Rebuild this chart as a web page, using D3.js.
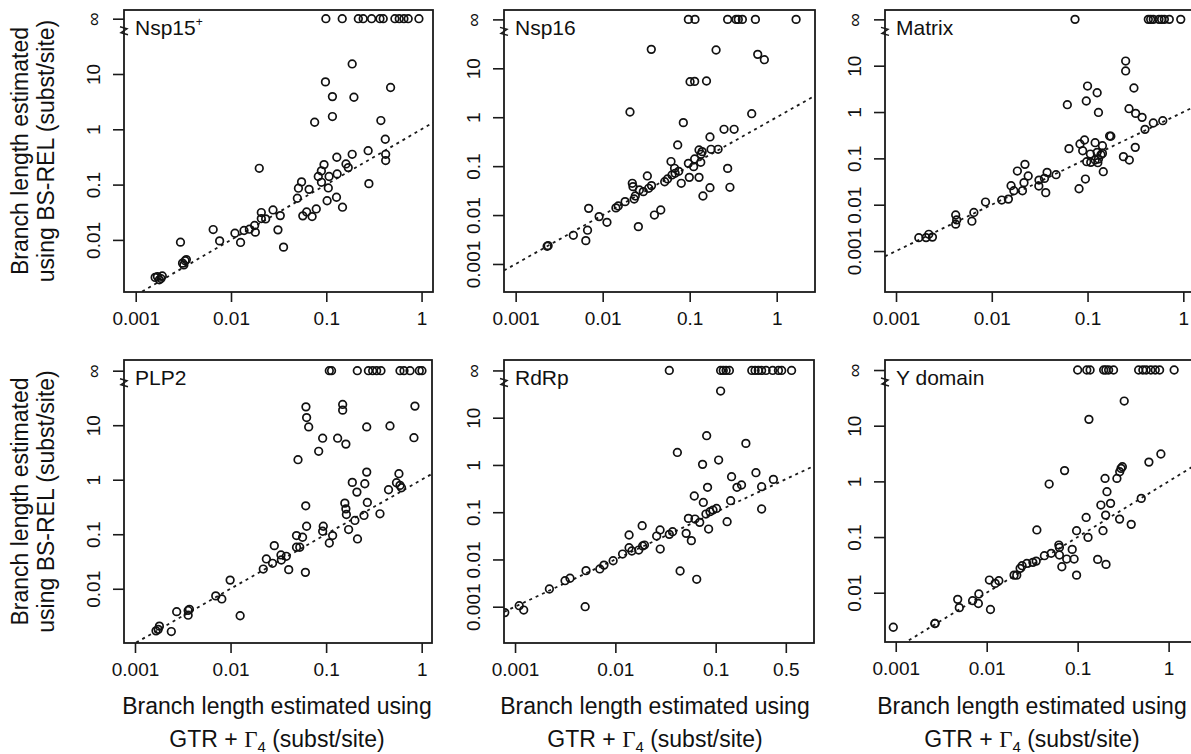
<!DOCTYPE html>
<html>
<head>
<meta charset="utf-8">
<title>BS-REL vs GTR branch lengths</title>
<script src="https://d3js.org/d3.v7.min.js"></script>
<style>
  body { margin: 0; background: #fff; }
  svg { font-family: "Liberation Sans", Arial, sans-serif; }
  .box { fill: none; stroke: #1a1a1a; stroke-width: 1.8px; }
  .tick line { stroke: #1a1a1a; stroke-width: 1.6px; }
  .tick text { font-size: 19px; fill: #111; }
  .pt { fill: none; stroke: #111; stroke-width: 1.7px; }
  .diag { fill: none; stroke: #1a1a1a; stroke-width: 1.8px; stroke-dasharray: 3 4; }
  .brk { fill: none; stroke: #1a1a1a; stroke-width: 1.5px; }
  .title { font-size: 21px; fill: #111; }
  .label { font-size: 23px; fill: #111; }
</style>
</head>
<body>
<svg id="chart" width="1191" height="754"></svg>
<script>
// Panel names
const panelNames = ["Nsp15", "Nsp16", "Matrix", "PLP2", "RdRp", "Y domain"];

// GTR + Gamma4 branch lengths (x) and BS-REL branch lengths (y); Infinity = unbounded estimate
const nsp15Gtr = [0.099, 0.147, 0.217, 0.244, 0.299, 0.366, 0.396, 0.525, 0.583, 0.653, 0.724, 0.938,
  0.187, 0.098, 0.473, 0.116, 0.195, 0.116, 0.0755, 0.374, 0.416, 0.275, 0.42, 0.42, 0.187, 0.129, 0.161,
  0.170, 0.0947, 0.0888, 0.0824, 0.107, 0.13, 0.089, 0.105, 0.28, 0.102, 0.128, 0.148, 0.055, 0.051, 0.066,
  0.0497, 0.0785, 0.0622, 0.0567, 0.071, 0.0276, 0.0208, 0.0208, 0.0231, 0.0329, 0.0198, 0.0177, 0.0156,
  0.0137, 0.018, 0.0311, 0.011, 0.0126, 0.0356, 0.0065, 0.0076, 0.00295, 0.0033, 0.0032, 0.0034, 0.0031,
  0.00169, 0.00184, 0.0019, 0.00177, 0.0016];
const nsp15Bsrel = [Infinity, Infinity, Infinity, Infinity, Infinity, Infinity, Infinity, Infinity, Infinity, Infinity, Infinity, Infinity,
  15.2, 7.2, 5.7, 3.9, 3.8, 1.7, 1.34, 1.44, 0.66, 0.41, 0.353, 0.272, 0.353, 0.312, 0.236,
  0.203, 0.23, 0.177, 0.14, 0.14, 0.156, 0.110, 0.087, 0.104, 0.051, 0.059, 0.039, 0.112, 0.086, 0.082,
  0.0566, 0.0363, 0.032, 0.0272, 0.0264, 0.0348, 0.0312, 0.0243, 0.024, 0.0275, 0.197, 0.0182, 0.0156,
  0.0148, 0.0138, 0.0152, 0.0132, 0.009, 0.0074, 0.0154, 0.0096, 0.0091, 0.0042, 0.00353, 0.0044, 0.0038,
  0.00217, 0.002, 0.00223, 0.0019, 0.0021];

const nsp16Gtr = [0.0966, 0.115, 0.273, 0.341, 0.362, 0.403, 0.569, 1.67,
  0.0362, 0.201, 0.605, 0.721, 0.101, 0.114, 0.156, 0.0206, 0.516, 0.0845, 0.248, 0.324, 0.171, 0.0728,
  0.128, 0.139, 0.176, 0.212, 0.135, 0.061, 0.067, 0.068, 0.0748, 0.0966, 0.111, 0.114, 0.134, 0.099, 0.128,
  0.080, 0.273, 0.29, 0.171, 0.142, 0.0516, 0.0556, 0.0626, 0.0326, 0.0364, 0.0338, 0.0293, 0.0264, 0.0219,
  0.0223, 0.023, 0.0237, 0.0181, 0.0151, 0.0142, 0.0393, 0.0465, 0.0257, 0.0091, 0.0112, 0.0069, 0.0067,
  0.0064, 0.0046, 0.00236, 0.0023];
const nsp16Bsrel = [Infinity, Infinity, Infinity, Infinity, Infinity, Infinity, Infinity, Infinity,
  24.4, 23.7, 19.3, 15, 5.33, 5.4, 5.5, 1.28, 1.18, 0.775, 0.566, 0.566, 0.395, 0.271,
  0.214, 0.198, 0.221, 0.221, 0.175, 0.124, 0.0903, 0.0714, 0.0783, 0.114, 0.0977, 0.140, 0.12, 0.059, 0.059,
  0.0446, 0.090, 0.0369, 0.0363, 0.0245, 0.048, 0.0547, 0.066, 0.063, 0.04, 0.0352, 0.0301, 0.0326, 0.0446,
  0.0381, 0.0213, 0.0245, 0.0188, 0.0153, 0.014, 0.01, 0.0127, 0.0058, 0.0093, 0.0071, 0.0137, 0.0049,
  0.003, 0.00386, 0.00237, 0.0023];

const matrixGtr = [0.074, 0.431, 0.456, 0.486, 0.557, 0.594, 0.634, 0.714, 0.94,
  0.25, 0.25, 0.305, 0.1, 0.126, 0.097, 0.0615, 0.13, 0.271, 0.318, 0.371, 0.61, 0.486, 0.398, 0.17, 0.175,
  0.315, 0.064, 0.0834, 0.093, 0.089, 0.12, 0.143, 0.107, 0.126, 0.138, 0.143, 0.098, 0.108, 0.12, 0.128,
  0.13, 0.146, 0.237, 0.273, 0.095, 0.0815, 0.0469, 0.0378, 0.0355, 0.0311, 0.031, 0.0366, 0.0222, 0.0185,
  0.024, 0.0217, 0.0209, 0.0159, 0.017, 0.0149, 0.0127, 0.0086, 0.0065, 0.0062, 0.0042, 0.0043, 0.0042,
  0.0022, 0.0024, 0.00173, 0.00206];
const matrixBsrel = [Infinity, Infinity, Infinity, Infinity, Infinity, Infinity, Infinity, Infinity, Infinity,
  12.6, 7.7, 3.3, 3.64, 2.61, 1.73, 1.44, 0.98, 1.18, 0.935, 0.767, 0.65, 0.58, 0.423, 0.303, 0.3,
  0.173, 0.162, 0.204, 0.249, 0.146, 0.218, 0.188, 0.124, 0.135, 0.12, 0.128, 0.0848, 0.082, 0.092, 0.0806,
  0.097, 0.0515, 0.109, 0.092, 0.0358, 0.0221, 0.0444, 0.0499, 0.037, 0.034, 0.0253, 0.0182, 0.0743, 0.0533,
  0.0416, 0.0299, 0.02, 0.0257, 0.02, 0.0132, 0.0126, 0.0114, 0.0068, 0.0044, 0.006, 0.0047, 0.0038,
  0.0023, 0.002, 0.00194, 0.00195];

const plp2Gtr = [0.108, 0.114, 0.212, 0.277, 0.307, 0.338, 0.375, 0.593, 0.653, 0.755, 0.944, 1.007,
  0.0615, 0.149, 0.149, 0.85, 0.0625, 0.0657, 0.266, 0.466, 0.092, 0.132, 0.161, 0.83, 0.0836, 0.0508,
  0.266, 0.578, 0.188, 0.254, 0.21, 0.545, 0.593, 0.615, 0.45, 0.0612, 0.157, 0.161, 0.163, 0.27, 0.366,
  0.249, 0.2, 0.172, 0.213, 0.0934, 0.092, 0.117, 0.108, 0.0625, 0.049, 0.0567, 0.049, 0.053, 0.0607,
  0.0287, 0.0237, 0.0275, 0.0337, 0.0383, 0.034, 0.022, 0.0406, 0.0099, 0.007, 0.0081, 0.0126, 0.00273,
  0.0036, 0.0036, 0.00371, 0.0018, 0.00166, 0.00175, 0.0024];
const plp2Bsrel = [Infinity, Infinity, Infinity, Infinity, Infinity, Infinity, Infinity, Infinity, Infinity, Infinity, Infinity, Infinity,
  21.7, 24, 18.9, 22.4, 13.8, 9.3, 9.3, 9.7, 5.77, 5.77, 4.5, 5.9, 3.32, 2.33,
  1.38, 1.29, 0.893, 0.843, 0.593, 0.88, 0.787, 0.713, 0.654, 0.332, 0.372, 0.292, 0.23, 0.383, 0.237,
  0.221, 0.179, 0.122, 0.082, 0.14, 0.1135, 0.0945, 0.069, 0.14, 0.0945, 0.0881, 0.0577, 0.0577, 0.02,
  0.0618, 0.0352, 0.0293, 0.0417, 0.0394, 0.0337, 0.023, 0.0224, 0.0144, 0.0074, 0.0065, 0.0032, 0.0038,
  0.004, 0.00327, 0.0042, 0.00206, 0.00169, 0.0018, 0.00164];

const rdrpGtr = [0.0345, 0.112, 0.119, 0.127, 0.137, 0.229, 0.247, 0.266, 0.287, 0.318, 0.37, 0.422, 0.455, 0.571,
  0.112, 0.0813, 0.2, 0.0415, 0.107, 0.074, 0.252, 0.144, 0.376, 0.181, 0.163, 0.287, 0.083, 0.0612,
  0.0753, 0.141, 0.287, 0.102, 0.094, 0.0877, 0.08, 0.13, 0.085, 0.0693, 0.0535, 0.0622, 0.0508, 0.0572,
  0.0372, 0.0345, 0.0279, 0.0258, 0.028, 0.0185, 0.0137, 0.0137, 0.0146, 0.0171, 0.0195, 0.0187, 0.0118,
  0.0095, 0.0077, 0.007, 0.0051, 0.0442, 0.0647, 0.00353, 0.00315, 0.0022, 0.005, 0.0011, 0.00122, 0.00079];
const rdrpBsrel = [Infinity, Infinity, Infinity, Infinity, Infinity, Infinity, Infinity, Infinity, Infinity, Infinity, Infinity, Infinity, Infinity, Infinity,
  36.6, 4.16, 2.86, 1.84, 1.27, 1.03, 0.686, 0.564, 0.495, 0.376, 0.336, 0.347, 0.336, 0.22,
  0.161, 0.175, 0.117, 0.12, 0.111, 0.1025, 0.0915, 0.063, 0.044, 0.061, 0.074, 0.0717, 0.0357, 0.025,
  0.0387, 0.034, 0.042, 0.0313, 0.0166, 0.0518, 0.0329, 0.0177, 0.0151, 0.0158, 0.0202, 0.0193, 0.013,
  0.0094, 0.0076, 0.0063, 0.0058, 0.0057, 0.0038, 0.004, 0.00355, 0.00237, 0.001, 0.00105, 0.00085, 0.00075];

const ydomGtr = [0.1, 0.126, 0.137, 0.193, 0.204, 0.219, 0.248, 0.468, 0.521, 0.567, 0.638, 0.713, 0.796, 1.15,
  0.325, 0.133, 0.822, 0.607, 0.31, 0.3, 0.29, 0.27, 0.2, 0.0718, 0.0486, 0.21, 0.5, 0.23, 0.18, 0.203,
  0.124, 0.289, 0.388, 0.19, 0.0973, 0.13, 0.0356, 0.0621, 0.063, 0.0512, 0.0431, 0.0871, 0.063, 0.0758,
  0.0914, 0.067, 0.0973, 0.166, 0.205, 0.035, 0.0322, 0.0276, 0.0245, 0.0233, 0.0214, 0.02, 0.0136, 0.0124,
  0.0107, 0.011, 0.0082, 0.0081, 0.007, 0.0048, 0.005, 0.0027, 0.0027, 0.00094];
const ydomBsrel = [Infinity, Infinity, Infinity, Infinity, Infinity, Infinity, Infinity, Infinity, Infinity, Infinity, Infinity, Infinity, Infinity, Infinity,
  27.7, 13, 3.1, 2.22, 1.83, 1.71, 1.49, 1.13, 1.13, 1.56, 0.895, 0.652, 0.495, 0.403, 0.376, 0.248,
  0.225, 0.21, 0.169, 0.13, 0.13, 0.0986, 0.134, 0.0718, 0.0652, 0.051, 0.0462, 0.06, 0.0475, 0.0403,
  0.0403, 0.0293, 0.0207, 0.0397, 0.0323, 0.037, 0.0351, 0.0336, 0.0306, 0.0274, 0.0207, 0.0207, 0.0164, 0.0147,
  0.0169, 0.005, 0.0095, 0.0064, 0.0072, 0.0076, 0.0054, 0.0028, 0.0028, 0.0024];

// Tick values and labels
const xTicksStandard = [0.001, 0.01, 0.1, 1];
const xTicksRdrp = [0.001, 0.01, 0.1, 0.5];
const xTickLabels = { 0.001: "0.001", 0.01: "0.01", 0.1: "0.1", 0.5: "0.5", 1: "1" };
const infinityPlotsAt = 100;
const yTicks = [0.001, 0.01, 0.1, 1, 10, infinityPlotsAt];
const yTickLabels = ["0.001", "0.01", "0.1", "1", "10", "\u221E"];

// Layout: plot box in px, axis limits as log10 exponents
const layout = [
  { l: 124, r: 433, t: 10, b: 292, xlim: [-3.123, 0.12], ylim: [-2.942, 2.157], labelX: 277 },
  { l: 504, r: 815, t: 10, b: 292, xlim: [-3.134, 0.44], ylim: [-3.573, 2.192], labelX: 655 },
  { l: 885, r: 1195, t: 10, b: 292, xlim: [-3.115, 0.122], ylim: [-3.884, 2.202], labelX: 1032 },
  { l: 124, r: 432, t: 360, b: 643, xlim: [-3.115, 0.108], ylim: [-2.995, 2.196], labelX: 277 },
  { l: 504, r: 814, t: 360, b: 643, xlim: [-3.11, -0.02], ylim: [-3.768, 2.221], labelX: 655 },
  { l: 885, r: 1195, t: 360, b: 642, xlim: [-3.118, 0.29], ylim: [-2.885, 2.18], labelX: 1032 }
];

const panelData = [
  [nsp15Gtr, nsp15Bsrel], [nsp16Gtr, nsp16Bsrel], [matrixGtr, matrixBsrel],
  [plp2Gtr, plp2Bsrel], [rdrpGtr, rdrpBsrel], [ydomGtr, ydomBsrel]
];
const panelXTicks = [xTicksStandard, xTicksStandard, xTicksStandard, xTicksStandard, xTicksRdrp, xTicksStandard];

const svg = d3.select("#chart");

panelNames.forEach((name, i) => {
  const L = layout[i];
  const [gtr, bsrel] = panelData[i];
  const x = d3.scaleLog().domain(L.xlim.map(e => Math.pow(10, e))).range([L.l, L.r]);
  const y = d3.scaleLog().domain(L.ylim.map(e => Math.pow(10, e))).range([L.b, L.t]);
  const yPos = v => isFinite(v) ? y(v) : y(infinityPlotsAt);

  const g = svg.append("g");
  const clipId = "clip" + i;
  svg.append("clipPath").attr("id", clipId)
    .append("rect").attr("x", L.l).attr("y", L.t).attr("width", L.r - L.l).attr("height", L.b - L.t);

  // 1:1 line
  const [d0, d1] = x.domain();
  g.append("path").attr("class", "diag")
    .attr("clip-path", `url(#${clipId})`)
    .attr("d", d3.line().x(d => x(d)).y(d => y(d))([d0, d1]));

  // points
  g.append("g").attr("clip-path", `url(#${clipId})`)
    .selectAll("circle")
    .data(gtr.map((v, k) => [v, bsrel[k]]))
    .join("circle")
    .attr("class", "pt")
    .attr("cx", d => x(d[0]))
    .attr("cy", d => yPos(d[1]))
    .attr("r", 3.8);

  // x axis
  const xt = panelXTicks[i];
  g.append("g")
    .attr("transform", `translate(0,${L.b})`)
    .call(d3.axisBottom(x).tickValues(xt).tickFormat(d => xTickLabels[d]).tickSize(10).tickPadding(10))
    .call(a => a.select(".domain").remove());

  // y axis (labels rotated, like R's default)
  const [ylo, yhi] = y.domain();
  const yt = yTicks.filter(v => v >= ylo && v <= yhi);
  g.append("g")
    .attr("transform", `translate(${L.l},0)`)
    .call(d3.axisLeft(y).tickValues(yt).tickFormat(d => yTickLabels[yTicks.indexOf(d)]).tickSize(11))
    .call(a => a.select(".domain").remove())
    .call(a => a.selectAll(".tick text")
      .attr("transform", "rotate(-90)")
      .attr("x", 0).attr("y", -24).attr("dy", 0)
      .style("text-anchor", "middle"));

  // box
  g.append("rect").attr("class", "box")
    .attr("x", L.l).attr("y", L.t).attr("width", L.r - L.l).attr("height", L.b - L.t);

  // axis break mark between 10 and infinity
  const by = yPos(Infinity) + 12;
  g.append("path").attr("class", "brk")
    .attr("d", `M${L.l - 4},${by - 4} L${L.l + 3},${by - 2} L${L.l - 3},${by + 2} L${L.l + 4},${by + 4}`);

  // title
  const title = g.append("text").attr("class", "title")
    .attr("x", L.l + 11).attr("y", L.t + 25).text(name);
  if (i === 0) {
    title.append("tspan").attr("font-size", 12).attr("dy", -9).text("+");
  }

  // x labels under the bottom row
  if (i >= 3) {
    g.append("text").attr("class", "label").attr("text-anchor", "middle")
      .attr("x", L.labelX).attr("y", 714).text("Branch length estimated using");
    const l2 = g.append("text").attr("class", "label").attr("text-anchor", "middle")
      .attr("x", L.labelX).attr("y", 747);
    l2.append("tspan").text("GTR + ");
    l2.append("tspan").attr("font-family", "Liberation Serif, serif").text("\u0393");
    l2.append("tspan").attr("font-size", 15).attr("dy", 5).text("4");
    l2.append("tspan").attr("dy", -5).text(" (subst/site)");
  }
});

// y labels on the left of each row
[0, 3].forEach(i => {
  const L = layout[i];
  const cy = (L.t + L.b) / 2;
  svg.append("text").attr("class", "label").attr("text-anchor", "middle")
    .attr("transform", `translate(28,${cy}) rotate(-90)`).text("Branch length estimated");
  svg.append("text").attr("class", "label").attr("text-anchor", "middle")
    .attr("transform", `translate(54,${cy}) rotate(-90)`).text("using BS-REL (subst/site)");
});
</script>
</body>
</html>
